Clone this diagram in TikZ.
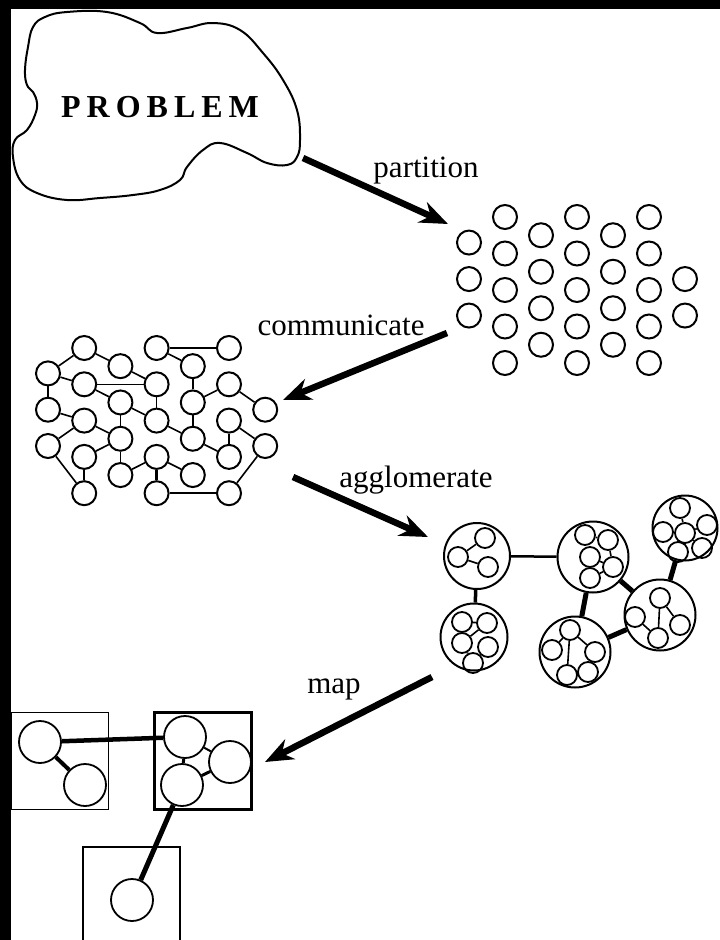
\documentclass[tikz,border=0pt]{standalone}
\usepackage{fontspec}
\setmainfont{Liberation Serif}
\usetikzlibrary{arrows.meta}

\begin{document}
\begin{tikzpicture}[x=1pt,y=-1pt,
  task/.style={circle,draw,line width=2pt,minimum size=24pt,inner sep=0pt},
  cluster/.style={circle,draw,line width=2pt,minimum size=#1,inner sep=0pt},
  sub/.style={circle,draw,line width=1.8pt,minimum size=20pt,inner sep=0pt},
  proc/.style={draw,line width=#1,minimum size=97pt,inner sep=0pt},
  pnode/.style={circle,draw,line width=1.8pt,minimum size=42pt,inner sep=0pt},
  link/.style={line width=1.6pt},
  bigarrow/.style={line width=6.5pt,-{Stealth[length=28pt,width=22pt,inset=9pt]}},
  lbl/.style={font=\fontsize{31}{31}\selectfont,inner sep=0pt,anchor=base}]
\useasboundingbox (0,0) rectangle (720,940);
\fill[black] (0,0) rectangle (720,940);
\fill[white] (11,9) rectangle (720,940);
\clip (11,9) rectangle (720,940);

% the problem
\draw[line width=2pt] plot[smooth cycle,tension=0.7] coordinates {
  (33,27) (45,17) (67,12) (107,12) (140,23) (157,33) (187,28) (213,23)
  (240,30) (263,53) (283,80) (297,110) (300,140) (297,157) (287,165)
  (267,163) (247,153) (220,143) (203,150) (187,167) (180,180) (160,190)
  (133,195) (100,198) (67,200) (37,193) (20,180) (13,157) (15,140)
  (27,130) (35,115) (37,103) (33,92) (27,85) (25,70) (28,47)};
\node[font=\bfseries\fontsize{32}{32}\selectfont,inner sep=0pt,anchor=base] (problem) at (160,117)
  {P\kern6pt R\kern6pt O\kern6pt B\kern6pt L\kern6pt E\kern6pt M};

% partition: tasks
\foreach \c/\n/\s in {1/3/0.7,2/5/0,3/4/0.5,4/5/0,5/4/0.5,6/5/0,7/2/1.7}
  \foreach \r in {1,...,\n}
    \node[task] (p-\c-\r) at ({469+36*(\c-1)},{217+36.5*(\s+\r-1)}) {};

% communicate: task graph
\foreach \c/\n/\s in {1/3/0.7,2/5/0,3/4/0.5,4/5/0,5/4/0.5,6/5/0,7/2/1.7}
  \foreach \r in {1,...,\n}
    \node[task] (g-\c-\r) at ({48+36.2*(\c-1)},{348+36.3*(\s+\r-1)}) {};
\foreach \a/\b in {2-1/1-1,2-1/3-1,4-1/6-1,4-1/5-1,1-1/2-2,1-1/1-2,2-2/4-2,
    3-1/4-2,5-1/5-2,4-2/4-3,5-2/6-2,6-2/7-1,1-2/2-3,3-2/3-3,2-3/3-3,4-3/5-3,
    5-2/5-3,6-3/6-4,5-3/6-4,7-2/6-5,1-3/2-5,2-4/2-5,2-4/3-3,3-3/3-4,4-4/3-4,
    4-4/5-4,4-5/6-5,1-3/2-3,2-2/3-2,3-2/4-3,6-3/7-2}
  \draw[link] (g-\a) -- (g-\b);
\draw[link,line width=3pt] (g-4-4) -- (g-4-5);

% agglomerate
\node[cluster=66pt] (ca) at (477,556) {};
\node[cluster=67pt] (cb) at (474,637) {};
\node[cluster=71pt] (cc) at (593,557) {};
\node[cluster=71pt] (cd) at (575,652) {};
\node[cluster=71pt] (ce) at (660,615) {};
\node[cluster=65pt] (cf) at (685,528) {};
\foreach \n/\x/\y in {a1/485/538,a2/458/557,a3/488/567,
    b1/462/622,b2/487/623,b3/462/643,b4/488/647,b5/473/663,
    c1/585/535,c2/608/540,c3/590/557,c4/613/567,c5/590/578,
    d1/570/630,d2/552/650,d3/595/652,d4/567/675,d5/588/672,
    e1/660/598,e2/635/617,e3/680/625,e4/658/638,
    f1/680/508,f2/663/532,f3/685/533,f4/707/525,f5/678/552,f6/702/548}
  \node[sub] (\n) at (\x,\y) {};
\foreach \a/\b in {a2/a1,a2/a3,b1/b2,b2/b3,b3/b5,b4/b5,c1/c2,c2/c4,c3/c4,c4/c5,
    d1/d2,d1/d3,d1/d4,d4/d5,d3/d5,e1/e4,e1/e3,e2/e4,f1/f3,f2/f3,f3/f4,f3/f5,f3/f6}
  \draw[link] (\a) -- (\b);
\draw[line width=2.5pt] (ca) -- (cc);
\draw[line width=3.5pt] (ca) -- (cb);
\foreach \a/\b in {cc/cd,cc/ce,cd/ce,ce/cf}
  \draw[line width=5pt] (\a) -- (\b);

% map
\node[proc=1.8pt] (box1) at (60,761) {};
\node[proc=3pt] (box2) at (203,761) {};
\node[proc=1.8pt] (box3) at (131.5,895.5) {};
\node[pnode] (m1) at (40,742) {};
\node[pnode] (m2) at (85,785) {};
\node[pnode] (m3) at (185,737) {};
\node[pnode] (m4) at (230,762) {};
\node[pnode] (m5) at (182,785) {};
\node[pnode] (m6) at (132,900) {};
\draw[line width=4.5pt] (m1) -- (m3);
\draw[line width=4pt] (m1) -- (m2);
\draw[line width=3pt] (m3) -- (m5);
\draw[line width=2pt] (m3) -- (m4);
\draw[line width=3pt] (m4) -- (m5);
\draw[line width=5pt] (m5) -- (m6);

% arrows and labels
\coordinate (part-from) at (303,158);
\coordinate (part-to) at (448,224);
\coordinate (comm-from) at (447,333);
\coordinate (comm-to) at (283,400);
\coordinate (aggl-from) at (293,477);
\coordinate (aggl-to) at (428,537);
\coordinate (map-from) at (432,677);
\coordinate (map-to) at (265,762);
\draw[bigarrow] (part-from) -- (part-to);
\draw[bigarrow] (comm-from) -- (comm-to);
\draw[bigarrow] (aggl-from) -- (aggl-to);
\draw[bigarrow] (map-from) -- (map-to);
\node[lbl] (l-part) at (426,177) {partition};
\node[lbl] (l-comm) at (341,335) {communicate};
\node[lbl] (l-aggl) at (416,487) {agglomerate};
\node[lbl] (l-map) at (334,693) {map};
\end{tikzpicture}
\end{document}
